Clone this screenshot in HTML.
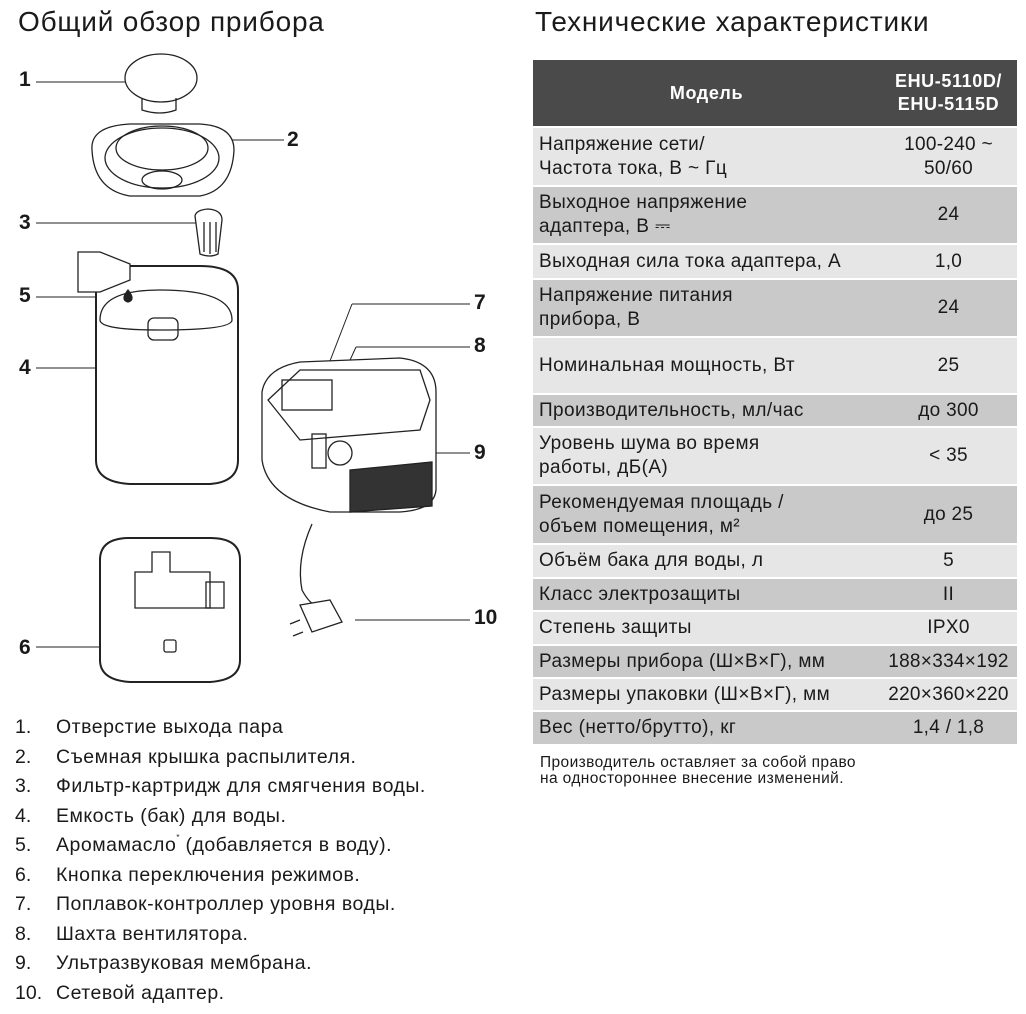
<!DOCTYPE html>
<html><head><meta charset="utf-8"><style>
body{margin:0;width:1026px;height:1014px;background:#fff;font-family:"Liberation Sans",sans-serif;color:#1a1a1a;position:relative;overflow:hidden}
.t{position:absolute;white-space:nowrap}
h1{position:absolute;margin:0;font-weight:normal;font-size:28px;letter-spacing:0.8px;white-space:nowrap}
table{position:absolute;left:533px;top:60px;width:484px;border-collapse:collapse;font-size:19px;letter-spacing:0.4px}
td{padding:0 6px;line-height:24px;white-space:nowrap}
td.v{text-align:center;width:125px;letter-spacing:0.3px}
tr.h td{background:#4a4a4a;color:#fff;font-weight:bold;height:66px;text-align:center;font-size:18px;letter-spacing:0.6px}
tr.l td{background:#e6e6e6}
tr.d td{background:#c9c9c9}
tr td{border-bottom:2px solid #fff}
.list{position:absolute;left:15px;top:713px;font-size:19.5px;letter-spacing:0.5px;line-height:29.5px;white-space:nowrap}
.list div span{display:inline-block;width:41px;letter-spacing:0}
.num{position:absolute;font-weight:bold;font-size:21px}
</style></head><body>
<h1 style="left:18px;top:6px">Общий обзор прибора</h1>
<h1 style="left:535px;top:6px">Технические характеристики</h1>
<table>
<tr class="h"><td>Модель</td><td class="v" style="line-height:23px">EHU-5110D/<br>EHU-5115D</td></tr>
<tr class="l"><td style="height:57px">Напряжение сети/<br>Частота тока, В ~ Гц</td><td class="v">100-240 ~<br>50/60</td></tr>
<tr class="d"><td style="height:56px">Выходное напряжение<br>адаптера, В ⎓</td><td class="v">24</td></tr>
<tr class="l"><td style="height:33px">Выходная сила тока адаптера, А</td><td class="v">1,0</td></tr>
<tr class="d"><td style="height:56px">Напряжение питания<br>прибора, В</td><td class="v">24</td></tr>
<tr class="l"><td style="height:55px">Номинальная мощность, Вт</td><td class="v">25</td></tr>
<tr class="d"><td style="height:31px">Производительность, мл/час</td><td class="v">до 300</td></tr>
<tr class="l"><td style="height:56px">Уровень шума во время<br>работы, дБ(А)</td><td class="v">&lt; 35</td></tr>
<tr class="d"><td style="height:57px">Рекомендуемая площадь /<br>объем помещения, м²</td><td class="v">до 25</td></tr>
<tr class="l"><td style="height:32px">Объём бака для воды, л</td><td class="v">5</td></tr>
<tr class="d"><td style="height:31px">Класс электрозащиты</td><td class="v">II</td></tr>
<tr class="l"><td style="height:32px">Степень защиты</td><td class="v">IPX0</td></tr>
<tr class="d"><td style="height:31px">Размеры прибора (Ш×В×Г), мм</td><td class="v">188×334×192</td></tr>
<tr class="l"><td style="height:31px">Размеры упаковки (Ш×В×Г), мм</td><td class="v">220×360×220</td></tr>
<tr class="d"><td style="height:32px">Вес (нетто/брутто), кг</td><td class="v">1,4 / 1,8</td></tr>
</table>
<div class="t" style="left:540px;top:755px;font-size:15.5px;letter-spacing:0.4px;line-height:16px">Производитель оставляет за собой право<br>на одностороннее внесение изменений.</div>
<div class="list">
<div><span>1.</span>Отверстие выхода пара</div>
<div><span>2.</span>Съемная крышка распылителя.</div>
<div><span>3.</span>Фильтр-картридж для смягчения воды.</div>
<div><span>4.</span>Емкость (бак) для воды.</div>
<div><span>5.</span>Аромамасло<span style="font-size:8px;width:auto;vertical-align:top;line-height:14px">*</span> (добавляется в воду).</div>
<div><span>6.</span>Кнопка переключения режимов.</div>
<div><span>7.</span>Поплавок-контроллер уровня воды.</div>
<div><span>8.</span>Шахта вентилятора.</div>
<div><span>9.</span>Ультразвуковая мембрана.</div>
<div><span>10.</span>Сетевой адаптер.</div>
</div>
<div class="num" style="left:19px;top:68px">1</div>
<div class="num" style="left:287px;top:128px">2</div>
<div class="num" style="left:19px;top:211px">3</div>
<div class="num" style="left:19px;top:284px">5</div>
<div class="num" style="left:19px;top:356px">4</div>
<div class="num" style="left:474px;top:291px">7</div>
<div class="num" style="left:474px;top:334px">8</div>
<div class="num" style="left:474px;top:441px">9</div>
<div class="num" style="left:474px;top:606px">10</div>
<div class="num" style="left:19px;top:636px">6</div>
<svg style="position:absolute;left:0;top:0" width="520" height="700" fill="none" stroke="#222" stroke-width="1.3">
<g stroke-width="1">
<line x1="36" y1="82" x2="136" y2="82"/><line x1="230" y1="140" x2="284" y2="140"/>
<line x1="36" y1="223" x2="196" y2="223"/><line x1="36" y1="297" x2="128" y2="297"/>
<line x1="36" y1="368" x2="112" y2="368"/><line x1="36" y1="647" x2="165" y2="647"/>
<line x1="318" y1="392" x2="352" y2="304"/><line x1="352" y1="304" x2="470" y2="304"/>
<line x1="315" y1="437" x2="356" y2="347"/><line x1="356" y1="347" x2="470" y2="347"/>
<line x1="345" y1="453" x2="470" y2="453"/><line x1="355" y1="620" x2="470" y2="620"/>
</g>
<ellipse cx="161" cy="78" rx="36" ry="24" fill="#fff"/><path d="M142 98 L142 110 Q160 116 176 110 L176 98"/>
<path d="M92 150 Q90 126 130 124 L200 124 Q234 126 234 150 Q232 190 200 196 L130 196 Q94 190 92 150Z" fill="#fff"/>
<ellipse cx="162" cy="158" rx="57" ry="30"/><ellipse cx="162" cy="148" rx="46" ry="22"/><ellipse cx="162" cy="180" rx="20" ry="9"/>
<path d="M195 216 Q196 210 208 209 Q222 210 222 220 L218 254 Q210 258 200 254Z" fill="#fff"/>
<line x1="204" y1="222" x2="204" y2="252"/><line x1="210" y1="222" x2="210" y2="254"/><line x1="216" y1="222" x2="216" y2="252"/>
<path d="M96 285 Q96 266 130 266 L200 266 Q238 266 238 290 L238 460 Q238 482 210 484 L130 484 Q96 482 96 460Z" fill="#fff" stroke-width="2"/>
<path d="M100 320 Q100 290 160 290 Q232 290 232 320 Q232 330 160 330 Q100 330 100 320"/>
<rect x="148" y="318" width="30" height="22" rx="6"/>
<path d="M78 252 L100 252 L130 264 L130 280 L100 292 L78 292Z" fill="#fff"/>
<path d="M128 290 Q120 300 128 302 Q136 300 128 290Z" fill="#222"/>
<path d="M100 560 Q100 538 130 538 L210 538 Q240 538 240 560 L240 660 Q240 680 210 682 L130 682 Q100 680 100 660Z" fill="#fff" stroke-width="2"/>
<path d="M135 572 L135 608 L210 608 L210 572 L170 572 L170 552 L152 552 L152 572Z"/>
<rect x="206" y="582" width="18" height="26"/><rect x="164" y="640" width="12" height="12" rx="2"/>
<path d="M262 392 Q266 368 300 362 L400 358 Q436 362 436 392 L436 490 Q434 510 400 512 L330 512 Q268 500 262 460Z" fill="#fff"/>
<path d="M268 400 L300 370 L420 370 L430 400 L420 430 L300 440Z"/>
<rect x="282" y="380" width="50" height="30"/>
<circle cx="340" cy="453" r="12"/><rect x="312" y="434" width="14" height="34"/>
<path d="M350 470 L432 462 L432 506 L350 512Z" fill="#333"/>
<path d="M312 524 Q296 560 302 590 Q310 605 318 606"/>
<path d="M300 605 L330 600 L342 622 L312 632Z" fill="#fff"/>
<line x1="300" y1="620" x2="290" y2="624"/><line x1="303" y1="632" x2="293" y2="636"/>
</svg>
</body></html>
